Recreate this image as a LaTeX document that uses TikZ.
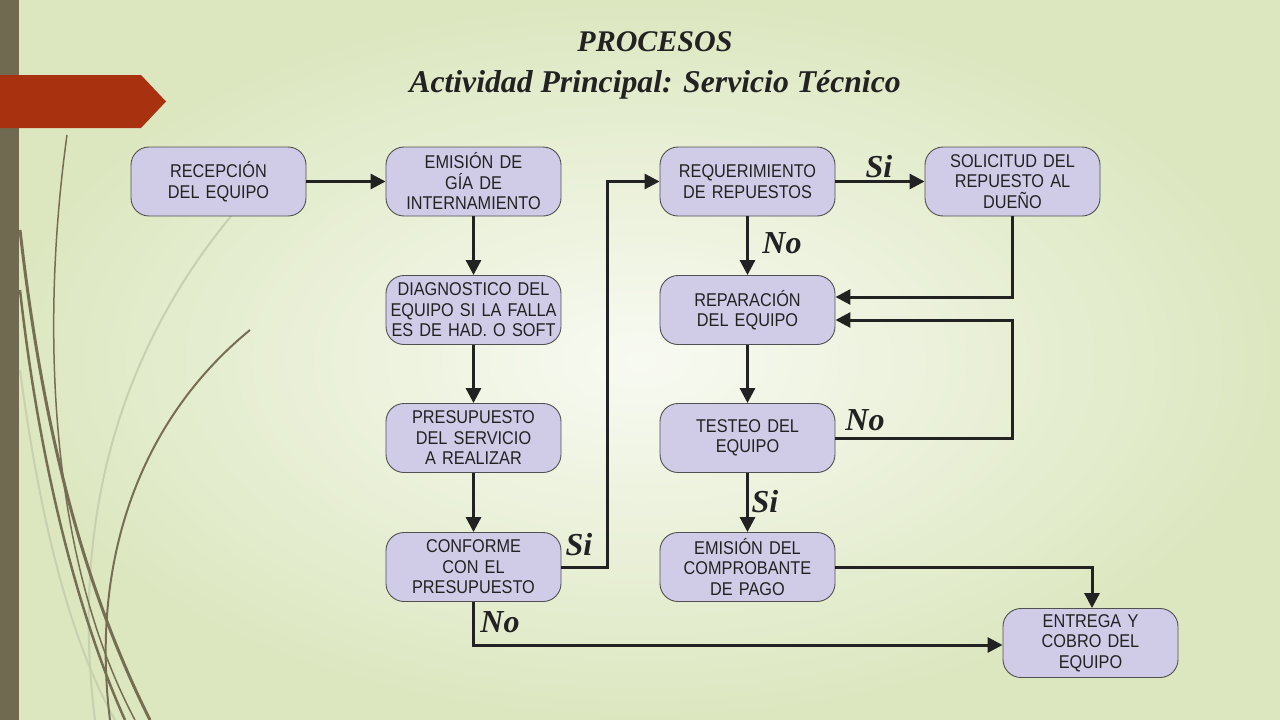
\documentclass[tikz,border=0pt]{standalone}
\usepackage{fontspec}
\setmainfont{Liberation Sans}
\newfontfamily\boxfont[FakeStretch=0.88]{Liberation Sans}
\newfontfamily\scriptf{Liberation Serif}
\usetikzlibrary{arrows.meta}
\definecolor{bgin}{RGB}{248,250,242}
\definecolor{bgout}{RGB}{220,231,192}
\definecolor{barcol}{RGB}{112,106,80}
\definecolor{redtab}{RGB}{168,50,16}
\definecolor{boxfill}{RGB}{208,204,232}
\definecolor{boxline}{RGB}{80,80,80}
\definecolor{ink}{RGB}{34,34,34}
\definecolor{grassdark}{RGB}{118,110,82}
\definecolor{grasslight}{RGB}{200,208,176}
\tikzset{
  procbox/.style={draw=boxline, line width=0.9pt, fill=boxfill, rounded corners=18pt,
    minimum width=175pt, minimum height=69pt, text width=172pt, align=center,
    font=\boxfont\fontsize{18.5}{20.5}\selectfont, text=ink, inner sep=0pt},
  flow/.style={draw=ink, line width=3pt, -{Triangle[length=15pt,width=15pt]}},
  lbl/.style={font=\scriptf\bfseries\itshape\fontsize{32}{32}\selectfont, text=ink, inner sep=0pt},
  ttl/.style={font=\scriptf\bfseries\itshape, text=ink},
  grass/.style={draw=grassdark, line width=2.2pt},
  grasslt/.style={draw=grasslight, line width=2pt}
}
\begin{document}
\begin{tikzpicture}[x=1pt,y=-1pt]
\useasboundingbox (0,0) rectangle (1280,720);
\shade[inner color=bgin, outer color=bgout] (0,0) rectangle (1280,720);
\begin{scope}
\clip (0,0) rectangle (1280,720);
\draw[grasslt] (20,370) .. controls (40,520) and (70,640) .. (115,720);
\draw[grasslt] (232,215) .. controls (120,350) and (70,520) .. (95,720);
\draw[grass, line width=1.5pt] (67,135) .. controls (40,330) and (50,560) .. (135,720);
\draw[grass, line width=3pt] (20,230) .. controls (45,450) and (90,600) .. (150,720);
\draw[grass, line width=2.5pt] (20,290) .. controls (40,470) and (80,620) .. (125,720);
\draw[grass, line width=2pt] (250,330) .. controls (140,420) and (90,560) .. (110,720);
\end{scope}
\fill[barcol] (0,0) rectangle (19,720);
\fill[redtab] (0,75) -- (141,75) -- (166,101.5) -- (141,128) -- (0,128) -- cycle;

\node[ttl, font=\scriptf\bfseries\itshape\fontsize{30}{30}\selectfont] (t1) at (655,42) {PROCESOS};
\node[ttl, font=\scriptf\bfseries\itshape\fontsize{31.7}{32}\selectfont] (t2) at (655,85) {Actividad Principal: Servicio Técnico};

\node[procbox] (rec) at (218.5,181.5) {RECEPCIÓN\\DEL EQUIPO};
\node[procbox] (emi) at (473.5,181.5) {EMISIÓN DE\\GÍA DE\\INTERNAMIENTO};
\node[procbox] (dia) at (473.5,310) {DIAGNOSTICO DEL\\EQUIPO SI LA FALLA\\ES DE HAD. O SOFT};
\node[procbox] (pre) at (473.5,438) {PRESUPUESTO\\DEL SERVICIO\\A REALIZAR};
\node[procbox] (con) at (473.5,567) {CONFORME\\CON EL\\PRESUPUESTO};
\node[procbox] (req) at (747.5,181.5) {REQUERIMIENTO\\DE REPUESTOS};
\node[procbox] (sol) at (1012.5,181.5) {SOLICITUD DEL\\REPUESTO AL\\DUEÑO};
\node[procbox] (rep) at (747.5,310) {REPARACIÓN\\DEL EQUIPO};
\node[procbox] (tes) at (747.5,438) {TESTEO DEL\\EQUIPO};
\node[procbox] (com) at (747.5,567) {EMISIÓN DEL\\COMPROBANTE\\DE PAGO};
\node[procbox] (ent) at (1090.5,643) {ENTREGA Y\\COBRO DEL\\EQUIPO};

\coordinate (c1) at (607,567);
\coordinate (c2) at (607,181.5);
\coordinate (c3) at (1012.5,297);
\coordinate (c4) at (1012,438);
\coordinate (c5) at (1012,320);
\coordinate (c6) at (1092,567);
\coordinate (c7) at (473.5,645);

\draw[flow] (rec) -- (emi);
\draw[flow] (emi) -- (dia);
\draw[flow] (dia) -- (pre);
\draw[flow] (pre) -- (con);
\draw[flow] (con.east) -- (c1) -- (c2) -- (req.west);
\draw[flow] (req) -- (sol);
\draw[flow] (req) -- (rep);
\draw[flow] (sol.south) -- (c3) -- (rep.east |- c3);
\draw[flow] (tes.east) -- (c4) -- (c5) -- (rep.east |- c5);
\draw[flow] (rep) -- (tes);
\draw[flow] (tes) -- (com);
\draw[flow] (com.east) -- (c6) -- (c6 |- ent.north);
\draw[flow] (con.south) -- (c7) -- (ent.west |- c7);

\node[lbl] (l1) at (579,545) {Si};
\node[lbl] (l2) at (879,167) {Si};
\node[lbl] (l3) at (782,243) {No};
\node[lbl] (l4) at (865,420) {No};
\node[lbl] (l5) at (765,502) {Si};
\node[lbl] (l6) at (500,622) {No};
\end{tikzpicture}
\end{document}
